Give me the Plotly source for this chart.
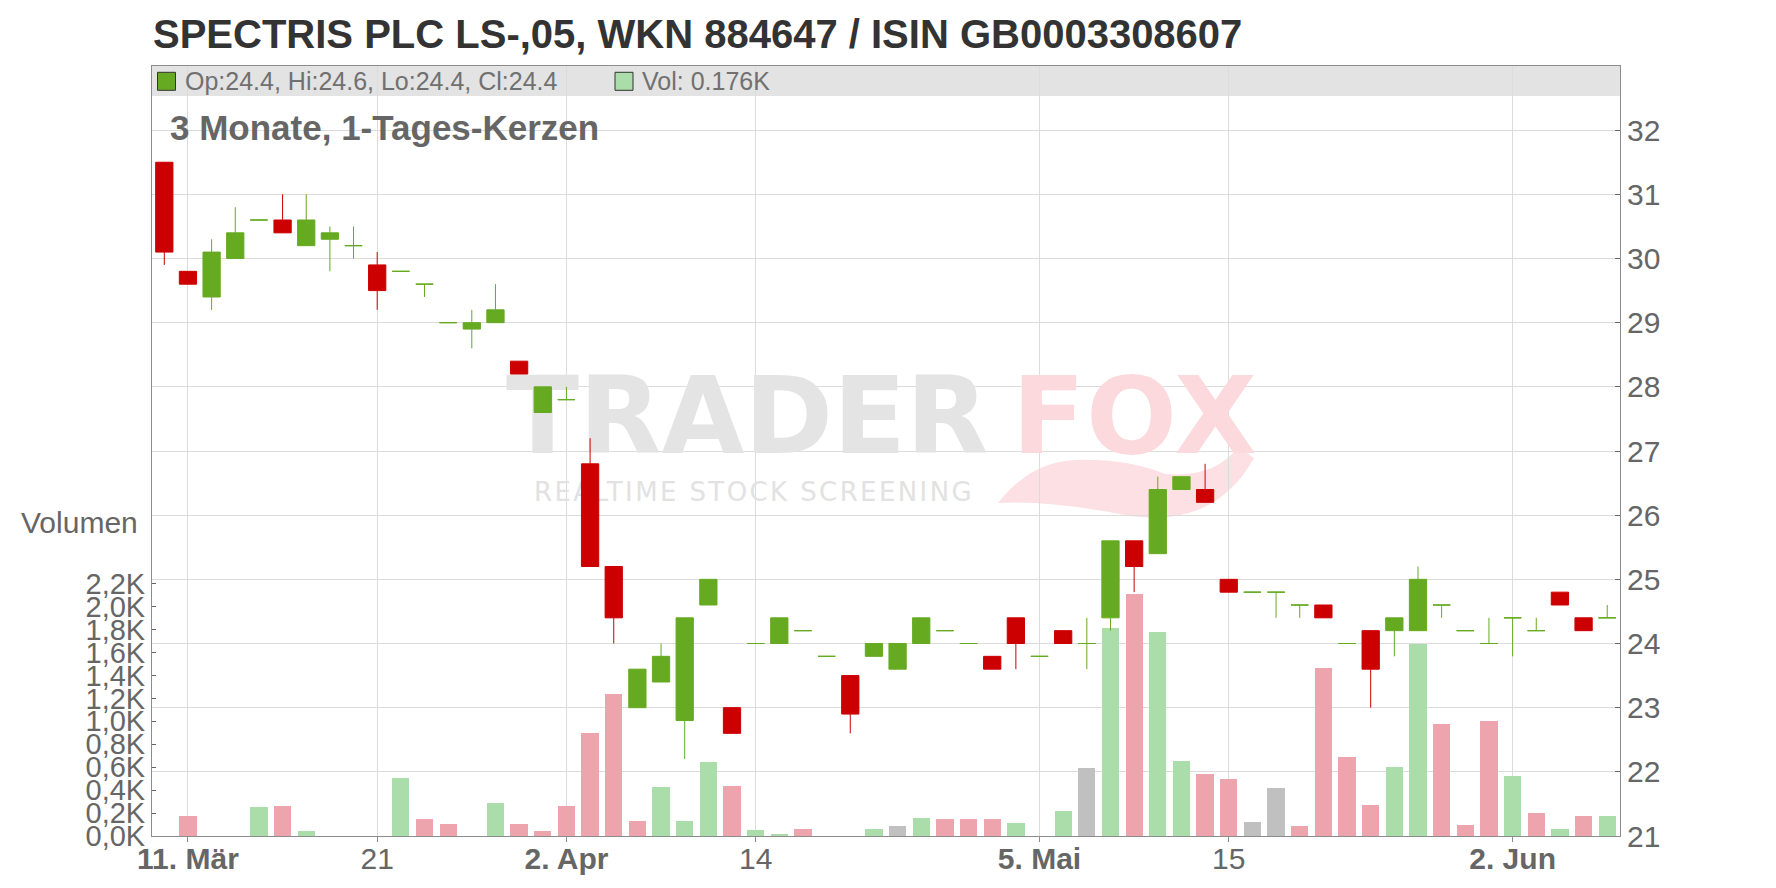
import pandas as pd
import plotly.graph_objects as go

# ---------------- data ----------------
holidays = ["2025-04-18", "2025-04-21", "2025-05-01"]
dates = [d.strftime("%Y-%m-%d") for d in pd.bdate_range("2025-03-10", "2025-06-06")
         if d.strftime("%Y-%m-%d") not in holidays]

open_ = [31.5, 29.8, 29.4, 30.0, 30.6, 30.6, 30.2, 30.3, 30.2, 29.9,
         29.8, 29.6, 29.0, 28.9, 29.0, 28.4, 27.6, 27.8, 26.8, 25.2,
         23.0, 23.4, 22.8, 24.6, 23.0, 24.0, 24.0, 24.2, 23.8, 23.5,
         23.8, 23.6, 24.0, 24.2, 24.0, 23.8, 24.4, 23.8, 24.2, 24.0,
         24.4, 25.6, 25.4, 26.4, 26.4, 25.0, 24.8, 24.8, 24.6, 24.6,
         24.0, 24.2, 24.2, 24.2, 24.6, 24.2, 24.0, 24.4, 24.2, 24.8,
         24.4, 24.4]
high = [31.5, 29.8, 30.3, 30.8, 30.6, 31.0, 31.0, 30.5, 30.5, 30.1,
        29.8, 29.6, 29.0, 29.2, 29.6, 28.4, 28.0, 28.0, 27.2, 25.2,
        23.6, 24.0, 24.4, 25.0, 23.0, 24.0, 24.4, 24.2, 23.8, 23.5,
        24.0, 24.0, 24.4, 24.2, 24.0, 23.8, 24.4, 23.8, 24.2, 24.4,
        25.6, 25.6, 26.6, 26.6, 26.8, 25.0, 24.8, 24.8, 24.6, 24.6,
        24.0, 24.2, 24.4, 25.2, 24.6, 24.2, 24.4, 24.4, 24.4, 24.8,
        24.4, 24.6]
low = [29.9, 29.6, 29.2, 30.0, 30.6, 30.4, 30.2, 29.8, 30.0, 29.2,
       29.8, 29.4, 29.0, 28.6, 29.0, 28.2, 27.6, 27.8, 25.2, 24.0,
       23.0, 23.4, 22.2, 24.6, 22.6, 24.0, 24.0, 24.2, 23.8, 22.6,
       23.8, 23.6, 24.0, 24.2, 24.0, 23.6, 23.6, 23.8, 24.0, 23.6,
       24.2, 24.8, 25.4, 26.4, 26.2, 24.8, 24.8, 24.4, 24.4, 24.4,
       24.0, 23.0, 23.8, 24.2, 24.4, 24.2, 24.0, 23.8, 24.2, 24.6,
       24.2, 24.4]
close = [30.1, 29.6, 30.1, 30.4, 30.6, 30.4, 30.6, 30.4, 30.2, 29.5,
         29.8, 29.6, 29.0, 29.0, 29.2, 28.2, 28.0, 27.8, 25.2, 24.4,
         23.6, 23.8, 24.4, 25.0, 22.6, 24.0, 24.4, 24.2, 23.8, 22.9,
         24.0, 24.0, 24.4, 24.2, 24.0, 23.6, 24.0, 23.8, 24.0, 24.0,
         25.6, 25.2, 26.4, 26.6, 26.2, 24.8, 24.8, 24.8, 24.6, 24.4,
         24.0, 23.6, 24.4, 25.0, 24.6, 24.2, 24.0, 24.4, 24.2, 24.6,
         24.2, 24.4]
volume_k = [0.0, 0.174, 0.0, 0.0, 0.253, 0.262, 0.044, 0.0, 0.0, 0.0,
            0.506, 0.148, 0.105, 0.0, 0.288, 0.105, 0.044, 0.262, 0.898, 1.238,
            0.131, 0.427, 0.131, 0.645, 0.436, 0.052, 0.012, 0.061, 0.0, 0.0,
            0.061, 0.087, 0.157, 0.148, 0.148, 0.148, 0.113, 0.0, 0.218, 0.593,
            1.813, 2.110, 1.779, 0.654, 0.541, 0.497, 0.122, 0.418, 0.087, 1.465,
            0.689, 0.270, 0.602, 1.677, 0.979, 0.096, 1.003, 0.523, 0.201, 0.061,
            0.174, 0.176]

tick_dates = ["2025-03-11", "2025-03-21", "2025-04-02", "2025-04-14",
              "2025-05-05", "2025-05-15", "2025-06-02"]
tick_labels = ["<b>11. Mär</b>", "21", "<b>2. Apr</b>", "14",
               "<b>5. Mai</b>", "15", "<b>2. Jun</b>"]
price_ticks = [21, 22, 23, 24, 25, 26, 27, 28, 29, 30, 31, 32]
vol_ticks = [0.0, 0.2, 0.4, 0.6, 0.8, 1.0, 1.2, 1.4, 1.6, 1.8, 2.0, 2.2]
vol_ticktext = [f"{v:.1f}K".replace(".", ",") for v in vol_ticks]

title_text = "SPECTRIS PLC LS-,05, WKN 884647 / ISIN GB0003308607"
subtitle_text = "3 Monate, 1-Tages-Kerzen"

# ---------------- styles ----------------
GREEN = "#66aa22"
RED = "#cc0000"
VOL_UP = "#aaddaa"
VOL_DOWN = "#eea4ac"
VOL_FLAT = "#c0c0c0"
GRID = "#dcdcdc"
AXIS = "#8c8c8c"
TXT = "#666666"
FONT = "Liberation Sans, Arial, sans-serif"

W, H = 1776, 888
PAGE_L, PAGE_R, PAGE_T, PAGE_B = 152, 1620, 66, 836
ML, MT = PAGE_L, PAGE_T
MR, MB = W - PAGE_R, H - PAGE_B
PW, PH = PAGE_R - PAGE_L, PAGE_B - PAGE_T
XR = [-0.52, 61.54]
PR = [21, 33]
VR = [0, 6.714]


def px_x(x):
    return (x - PAGE_L) / PW


def px_y(y):
    return (PAGE_B - y) / PH


def data_x(xpx):
    return XR[0] + (xpx - PAGE_L) / PW * (XR[1] - XR[0])


def vol_y(ypx):
    return VR[0] + (PAGE_B - ypx) / PH * (VR[1] - VR[0])


n = len(dates)
xs = list(range(n))
tickvals = [dates.index(d) for d in tick_dates]

vol_colors = [VOL_FLAT]
for i in range(1, n):
    d = round(close[i] - close[i - 1], 4)
    vol_colors.append(VOL_UP if d > 0 else (VOL_DOWN if d < 0 else VOL_FLAT))

up = [i for i in range(n) if close[i] >= open_[i]]
dn = [i for i in range(n) if close[i] < open_[i]]

fig = go.Figure()

# volume bars on the main (left) axis -> drawn underneath the candles
fig.add_trace(go.Bar(x=xs, y=volume_k, marker=dict(color=vol_colors, line=dict(width=0)),
                     width=0.73, yaxis="y", hoverinfo="skip"))

# watermark text (under candles)
fig.add_trace(go.Scatter(
    x=[data_x(506), data_x(1012), data_x(534)],
    y=[vol_y(426), vol_y(426), vol_y(494)],
    mode="text",
    text=["<b>TRADER</b>", '<b><span style="letter-spacing:1px">FOX</span></b>',
          '<span style="letter-spacing:2.4px">REALTIME STOCK SCREENING</span>'],
    textposition="middle right",
    textfont=dict(family="DejaVu Sans", size=[107, 107, 26],
                  color=["#e4e4e4", "#fcd9dd", "#e2e2e2"]),
    hoverinfo="skip", yaxis="y"))


def candle(idx, color):
    return go.Candlestick(
        x=[xs[i] for i in idx],
        open=[open_[i] for i in idx], high=[high[i] for i in idx],
        low=[low[i] for i in idx], close=[close[i] for i in idx],
        increasing=dict(line=dict(color=color, width=1), fillcolor=color),
        decreasing=dict(line=dict(color=color, width=1), fillcolor=color),
        whiskerwidth=0, yaxis="y2", hoverinfo="skip")


fig.add_trace(candle(up, GREEN))
fig.add_trace(candle(dn, RED))

shapes = [
    # grey header band
    dict(type="rect", xref="paper", yref="paper", x0=0, x1=1,
         y0=px_y(96), y1=px_y(66), fillcolor="#e3e3e3", line=dict(width=0), layer="below"),
    # legend swatches
    dict(type="rect", xref="paper", yref="paper", x0=px_x(157.5), x1=px_x(175.5),
         y0=px_y(90.3), y1=px_y(72.3), fillcolor=GREEN, line=dict(color="#333333", width=1),
         layer="above"),
    dict(type="rect", xref="paper", yref="paper", x0=px_x(615), x1=px_x(633),
         y0=px_y(90.3), y1=px_y(72.3), fillcolor=VOL_UP, line=dict(color="#333333", width=1),
         layer="above"),
]

# fox tail swoosh of the watermark
pts = [(998, 503), (1030, 462), (1075, 460), (1125, 458), (1165, 474),
       (1215, 478), (1238, 447), (1254, 458), (1215, 528), (1130, 516),
       (1050, 500), (998, 503)]
P = [(px_x(a), px_y(b)) for a, b in pts]
path = (f"M {P[0][0]},{P[0][1]} Q {P[1][0]},{P[1][1]} {P[2][0]},{P[2][1]} "
        f"Q {P[3][0]},{P[3][1]} {P[4][0]},{P[4][1]} Q {P[5][0]},{P[5][1]} {P[6][0]},{P[6][1]} "
        f"L {P[7][0]},{P[7][1]} Q {P[8][0]},{P[8][1]} {P[9][0]},{P[9][1]} "
        f"Q {P[10][0]},{P[10][1]} {P[11][0]},{P[11][1]} Z")
shapes.append(dict(type="path", xref="paper", yref="paper", path=path,
                   fillcolor="#fde0e4", line=dict(width=0), layer="below"))

legend_txt = f"Op:{open_[-1]}, Hi:{high[-1]}, Lo:{low[-1]}, Cl:{close[-1]}"
vol_txt = f"Vol: {volume_k[-1]:.3f}K"

annotations = [
    dict(text=f"<b>{title_text}</b>", xref="paper", yref="paper", x=px_x(151), y=px_y(34.5),
         xanchor="left", yanchor="middle", showarrow=False,
         font=dict(family=FONT, size=40, color="#333333")),
    dict(text=legend_txt, xref="paper", yref="paper", x=px_x(183), y=px_y(81.3),
         xanchor="left", yanchor="middle", showarrow=False,
         font=dict(family=FONT, size=25, color="#707070")),
    dict(text=vol_txt, xref="paper", yref="paper", x=px_x(640), y=px_y(81.3),
         xanchor="left", yanchor="middle", showarrow=False,
         font=dict(family=FONT, size=25, color="#707070")),
    dict(text=f"<b>{subtitle_text}</b>", xref="paper", yref="paper", x=px_x(167.5), y=px_y(127.5),
         xanchor="left", yanchor="middle", showarrow=False,
         font=dict(family=FONT, size=35, color="#666666")),
    dict(text="Volumen", xref="paper", yref="paper", x=px_x(18.5), y=px_y(522.4),
         xanchor="left", yanchor="middle", showarrow=False,
         font=dict(family=FONT, size=30, color=TXT)),
]

fig.update_layout(
    width=W, height=H, autosize=False,
    margin=dict(l=ML, r=MR, t=MT, b=MB, pad=0, autoexpand=False),
    paper_bgcolor="white", plot_bgcolor="white",
    showlegend=False,
    boxgap=0.27, boxgroupgap=0,
    bargap=0,
    font=dict(family=FONT, color=TXT),
    shapes=shapes, annotations=annotations,
    xaxis=dict(range=XR, tickvals=tickvals, ticktext=tick_labels, automargin=False,
               tickfont=dict(size=30, color=TXT, family=FONT),
               showgrid=True, gridcolor=GRID, gridwidth=1,
               showline=True, linecolor=AXIS, linewidth=1, mirror=True,
               ticks="outside", ticklen=5, tickcolor=AXIS, ticklabelstandoff=-9,
               zeroline=False, rangeslider=dict(visible=False), fixedrange=True),
    yaxis=dict(range=VR, side="left", tickvals=vol_ticks, ticktext=vol_ticktext,
               automargin=False,
               tickfont=dict(size=29, color=TXT, family=FONT),
               showgrid=False, zeroline=False,
               showline=True, linecolor=AXIS, linewidth=1,
               ticks="inside", ticklen=4, tickcolor=TXT),
    yaxis2=dict(range=PR, side="right", overlaying="y", tickvals=price_ticks,
                automargin=False,
                tickfont=dict(size=30, color=TXT, family=FONT),
                showgrid=True, gridcolor=GRID, gridwidth=1, zeroline=False,
                showline=True, linecolor=AXIS, linewidth=1,
                ticks="inside", ticklen=5, tickcolor=TXT),
)

fig.write_html("out.html", config={"displayModeBar": False},
               post_script="document.body.style.margin='0';document.body.style.overflow='hidden';")
